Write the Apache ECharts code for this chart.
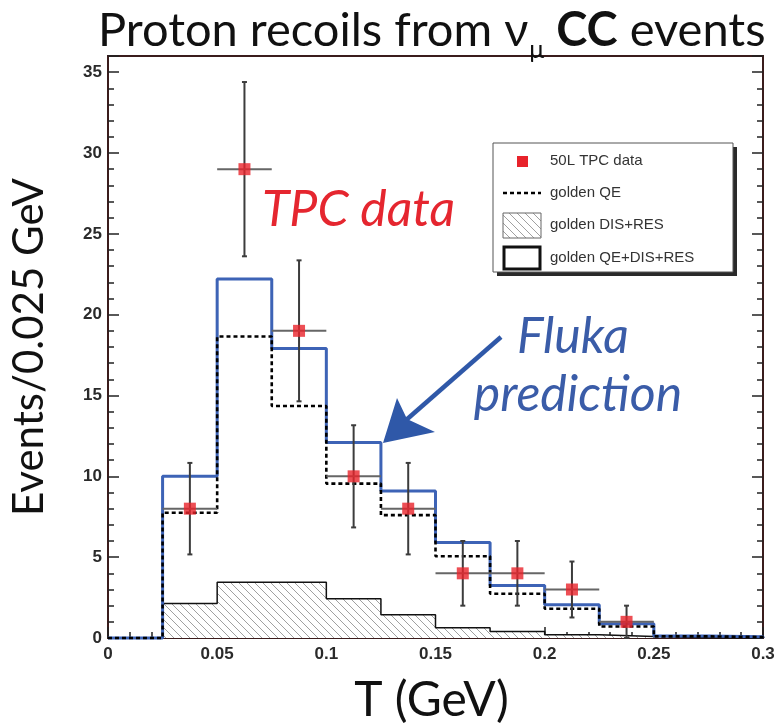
<!DOCTYPE html>
<html>
<head>
<meta charset="utf-8">
<script src="https://cdn.jsdelivr.net/npm/echarts@6/dist/echarts.min.js"></script>
<style>
  html, body { margin: 0; padding: 0; background: #fff; }
  #chart { width: 781px; height: 725px; }
</style>
</head>
<body>
<div id="chart"></div>
<script>
// Histogram binning in kinetic energy T (GeV), 0.025 GeV per bin
const binEdges = [0, 0.025, 0.05, 0.075, 0.1, 0.125, 0.15, 0.175, 0.2, 0.225, 0.25, 0.275, 0.3];

// Fluka predictions per bin
const totalPred  = [0, 10.0, 22.2, 17.9, 12.1, 9.1, 5.9, 3.25, 2.05, 0.88, 0.12, 0.08]; // golden QE+DIS+RES
const qePred     = [0, 7.75, 18.65, 14.35, 9.55, 7.6, 5.06, 2.74, 1.81, 0.71, 0.1, 0.06]; // golden QE
const disResPred = [0, 2.13, 3.45, 3.45, 2.43, 1.44, 0.64, 0.4, 0.2, 0.1, 0.02, 0.0];   // golden DIS+RES

// 50L TPC data points
const dataT      = [0.0375, 0.0625, 0.0875, 0.1125, 0.1375, 0.1625, 0.1875, 0.2125, 0.2375];
const dataCounts = [8, 29, 19, 10, 8, 4, 4, 3, 1];
const dataErrY   = [2.83, 5.39, 4.36, 3.16, 2.83, 2.0, 2.0, 1.73, 1.0];
const dataErrX   = [0.0125, 0.0125, 0.0125, 0.0125, 0.0125, 0.0125, 0.0125, 0.0125, 0.0125];

// Axis ticks
const xTickValues = [0, 0.05, 0.1, 0.15, 0.2, 0.25, 0.3];
const yTickValues = [0, 5, 10, 15, 20, 25, 30, 35];

const frameColor = '#3a1c1c';
const tickColor = '#222';
const blue = '#3d63b6';
const red = '#e8232b';

// Diagonal hatch tile for the DIS+RES component
function makeHatch() {
  const s = 8;
  const c = document.createElement('canvas');
  c.width = s; c.height = s;
  const g = c.getContext('2d');
  g.fillStyle = '#fff';
  g.fillRect(0, 0, s, s);
  g.strokeStyle = '#a0a0a0';
  g.lineWidth = 1;
  g.beginPath();
  g.moveTo(-1, -1); g.lineTo(s + 1, s + 1);
  g.moveTo(-1, s - 1); g.lineTo(1, s + 1);
  g.moveTo(s - 1, -1); g.lineTo(s + 1, 1);
  g.stroke();
  return c;
}
const hatch = { image: makeHatch(), repeat: 'repeat' };

// Step outline of a histogram from bin contents
function histPoints(values) {
  const pts = [[binEdges[0], 0]];
  values.forEach((v, i) => pts.push([binEdges[i], v]));
  pts.push([binEdges[binEdges.length - 1], values[values.length - 1]]);
  pts.push([binEdges[binEdges.length - 1], 0]);
  return pts;
}

const labelFont = { fontFamily: 'Liberation Sans', fontWeight: 'bold', fontSize: 17, color: '#2a2a2a' };

function yAxisDef(position, major) {
  const main = major && position === 'left';
  return {
    type: 'value', gridIndex: 0, position: position,
    min: 0, max: 36, interval: major ? 5 : 1,
    axisLine: { show: main, lineStyle: { color: frameColor, width: 2 } },
    axisTick: { show: true, inside: true, length: major ? 11 : 6, lineStyle: { color: tickColor, width: 1.5 } },
    axisLabel: main
      ? Object.assign({ show: true, margin: 6, customValues: yTickValues }, labelFont)
      : { show: false },
    splitLine: { show: false },
    name: main ? 'Events/0.025 GeV' : '',
    nameLocation: 'middle', nameRotate: 90, nameGap: 58,
    nameTextStyle: { fontFamily: 'Lato', fontSize: 42, color: '#111' }
  };
}

const chart = echarts.init(document.getElementById('chart'), null, { renderer: 'canvas' });

chart.setOption({
  animation: false,
  backgroundColor: '#fff',
  title: {
    text: '{a|Proton recoils from ν}{s|μ}{a| }{b|CC}{a| events}',
    left: 93, top: -6,
    textStyle: {
      fontWeight: 'normal',
      rich: {
        a: { fontFamily: 'Lato', fontSize: 47, fontWeight: 'normal', color: '#111' },
        b: { fontFamily: 'Lato', fontSize: 47, fontWeight: 'bold', color: '#111' },
        s: { fontFamily: 'Lato', fontSize: 25, fontWeight: 'normal', color: '#111', padding: [38, 0, 0, 1] }
      }
    }
  },
  grid: {
    left: 108, right: 18, top: 56, bottom: 87,
    outerBoundsMode: 'none', containLabel: false,
    show: true, borderColor: frameColor, borderWidth: 2, backgroundColor: 'transparent'
  },
  xAxis: {
    type: 'value', min: 0, max: 0.3, interval: 0.05,
    axisLine: { show: true, onZero: false, lineStyle: { color: frameColor, width: 2 } },
    axisTick: { show: true, inside: true, length: 11, lineStyle: { color: tickColor, width: 1.5 } },
    minorTick: { show: true, splitNumber: 5, length: 6, lineStyle: { color: tickColor, width: 1.5 } },
    axisLabel: Object.assign({ margin: 8, customValues: xTickValues }, labelFont),
    splitLine: { show: false },
    name: 'T (GeV)', nameLocation: 'middle', nameGap: 39,
    nameTextStyle: { fontFamily: 'Lato', fontSize: 48, color: '#111', padding: [0, 8, 0, 0] }
  },
  yAxis: [
    yAxisDef('left', true),
    yAxisDef('left', false),
    yAxisDef('right', true),
    yAxisDef('right', false)
  ],
  series: [
    {
      name: 'golden DIS+RES', type: 'line', step: 'end', clip: false,
      data: histPoints(disResPred), symbol: 'none', z: 1,
      lineStyle: { color: '#111', width: 1.5 },
      areaStyle: { color: hatch, opacity: 1 }
    },
    {
      name: 'golden QE+DIS+RES', type: 'line', step: 'end', clip: false,
      data: histPoints(totalPred), symbol: 'none', z: 2,
      lineStyle: { color: blue, width: 3 }
    },
    {
      name: 'golden QE', type: 'line', step: 'end', clip: false,
      data: histPoints(qePred), symbol: 'none', z: 3,
      lineStyle: { color: '#000', width: 2.6, type: [4, 3] }
    },
    {
      name: 'errors', type: 'custom', z: 4, clip: false,
      data: dataT.map((t, i) => [t, dataCounts[i], dataErrY[i], dataErrX[i]]),
      renderItem: function (params, api) {
        const x = api.value(0), y = api.value(1), ey = api.value(2), ex = api.value(3);
        const lo = api.coord([x, y - ey]);
        const hi = api.coord([x, y + ey]);
        const l = api.coord([x - ex, y]);
        const r = api.coord([x + ex, y]);
        const st = { stroke: '#3c3c3c', lineWidth: 2 };
        return {
          type: 'group',
          children: [
            { type: 'line', shape: { x1: lo[0], y1: lo[1], x2: hi[0], y2: hi[1] }, style: st },
            { type: 'line', shape: { x1: lo[0] - 2.5, y1: lo[1], x2: lo[0] + 2.5, y2: lo[1] }, style: st },
            { type: 'line', shape: { x1: hi[0] - 2.5, y1: hi[1], x2: hi[0] + 2.5, y2: hi[1] }, style: st },
            { type: 'line', shape: { x1: l[0], y1: l[1], x2: r[0], y2: r[1] }, style: { stroke: '#666', lineWidth: 2 } }
          ]
        };
      }
    },
    {
      name: '50L TPC data', type: 'scatter', z: 5,
      data: dataT.map((t, i) => [t, dataCounts[i]]),
      symbol: 'rect', symbolSize: 12,
      itemStyle: { color: red }
    }
  ],
  graphic: [
    // legend box
    { type: 'rect', shape: { x: 497, y: 147, width: 240, height: 129 }, style: { fill: '#2a2a2a' }, z: 10 },
    { type: 'rect', shape: { x: 493, y: 143, width: 240, height: 129 }, style: { fill: '#fff', stroke: '#555', lineWidth: 1 }, z: 11 },
    { type: 'rect', shape: { x: 517, y: 156, width: 11, height: 11 }, style: { fill: red }, z: 12 },
    { type: 'text', x: 550, y: 161, style: { text: '50L TPC data', fontFamily: 'Liberation Sans', fontSize: 15, fill: '#333', verticalAlign: 'middle' }, z: 12 },
    { type: 'line', shape: { x1: 503, y1: 193, x2: 541, y2: 193 }, style: { stroke: '#000', lineWidth: 2.6, lineDash: [4, 3] }, z: 12 },
    { type: 'text', x: 550, y: 193, style: { text: 'golden QE', fontFamily: 'Liberation Sans', fontSize: 15, fill: '#333', verticalAlign: 'middle' }, z: 12 },
    { type: 'rect', shape: { x: 503, y: 213, width: 38, height: 25 }, style: { fill: hatch, stroke: '#666', lineWidth: 1 }, z: 12 },
    { type: 'text', x: 550, y: 225, style: { text: 'golden DIS+RES', fontFamily: 'Liberation Sans', fontSize: 15, fill: '#333', verticalAlign: 'middle' }, z: 12 },
    { type: 'rect', shape: { x: 504, y: 247, width: 36, height: 22 }, style: { fill: '#fff', stroke: '#111', lineWidth: 3 }, z: 12 },
    { type: 'text', x: 550, y: 258, style: { text: 'golden QE+DIS+RES', fontFamily: 'Liberation Sans', fontSize: 15, fill: '#333', verticalAlign: 'middle' }, z: 12 },

    // annotations
    { type: 'text', x: 262, y: 210, style: { text: 'TPC data', fontFamily: 'Lato', fontStyle: 'italic', fontSize: 50, fill: '#e5262f', verticalAlign: 'middle' }, z: 12 },
    { type: 'text', x: 573, y: 337, style: { text: 'Fluka', fontFamily: 'Lato', fontStyle: 'italic', fontSize: 50, fill: '#3a5ca8', align: 'center', verticalAlign: 'middle' }, z: 12 },
    { type: 'text', x: 578, y: 395, style: { text: 'prediction', fontFamily: 'Lato', fontStyle: 'italic', fontSize: 50, fill: '#3a5ca8', align: 'center', verticalAlign: 'middle' }, z: 12 },
    { type: 'line', shape: { x1: 501, y1: 337, x2: 405, y2: 421 }, style: { stroke: '#2f58a8', lineWidth: 4.5 }, z: 12 },
    { type: 'polygon', shape: { points: [[383, 443], [397, 398], [407, 419], [435, 432]] }, style: { fill: '#2f58a8' }, z: 12 }
  ]
});
</script>
</body>
</html>
